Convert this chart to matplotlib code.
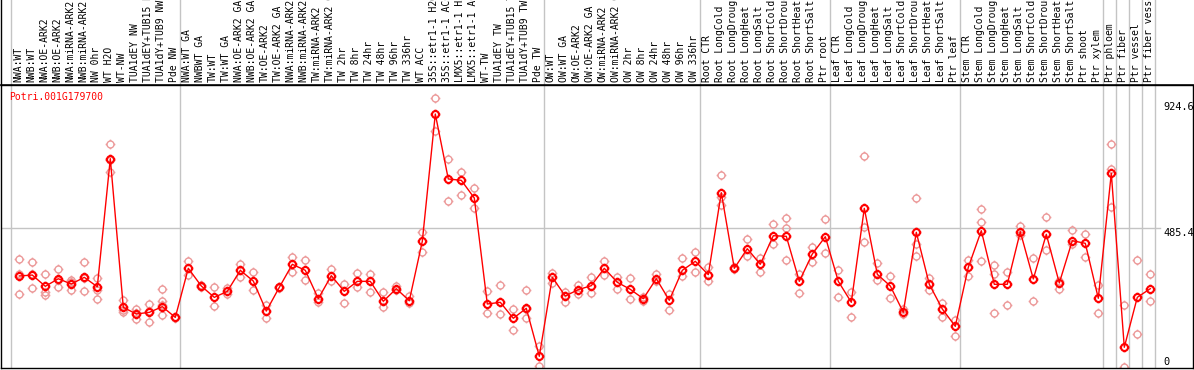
import numpy as np
import matplotlib.pyplot as plt
from matplotlib.path import Path

gene = "Potri.001G179700"

labels = [
    "NWA:WT", "NWB:WT", "NWA:OE-ARK2", "NWB:OE-ARK2", "NWA:miRNA-ARK2",
    "NWB:miRNA-ARK2", "NW 0hr", "WT H2O", "WT-NW", "TUA1dEY NW",
    "TUA1dEY+TUB15 NW", "TUA1dY+TUB9 NW", "Pde NW",
    "NWA:WT GA", "NWBWT GA", "TW:WT", "TW:WT GA", "NWA:OE-ARK2 GA",
    "NWB:OE-ARK2 GA", "TW:OE-ARK2", "TW:OE-ARK2 GA", "NWA:miRNA-ARK2 GA",
    "NWB:miRNA-ARK2 GA", "TW:miRNA-ARK2", "TW:miRNA-ARK2 GA", "TW 2hr",
    "TW 8hr", "TW 24hr", "TW 48hr", "TW 96hr", "TW 336hr", "WT ACC",
    "35S::etr1-1 H2O", "35S::etr1-1 ACC", "LMX5::etr1-1 H2O",
    "LMX5::etr1-1 ACC", "WT-TW", "TUA1dEY TW", "TUA1dEY+TUB15 TW",
    "TUA1dY+TUB9 TW", "Pde TW",
    "OW:WT", "OW:WT GA", "OW:OE-ARK2", "OW:OE-ARK2 GA", "OW:miRNA-ARK2",
    "OW:miRNA-ARK2 GA", "OW 2hr", "OW 8hr", "OW 24hr", "OW 48hr", "OW 96hr",
    "OW 336hr",
    "Root CTR", "Root LongCold", "Root LongDrought", "Root LongHeat",
    "Root LongSalt", "Root ShortCold", "Root ShortDrought", "Root ShortHeat",
    "Root ShortSalt", "Ptr root",
    "Leaf CTR", "Leaf LongCold", "Leaf LongDrought", "Leaf LongHeat",
    "Leaf LongSalt", "Leaf ShortCold", "Leaf ShortDrought", "Leaf ShortHeat",
    "Leaf ShortSalt", "Ptr leaf",
    "Stem CTR", "Stem LongCold", "Stem LongDrought", "Stem LongHeat",
    "Stem LongSalt", "Stem ShortCold", "Stem ShortDrought", "Stem ShortHeat",
    "Stem ShortSalt", "Ptr shoot", "Ptr xylem",
    "Ptr phloem", "Ptr fiber", "Ptr vessel", "Ptr fiber vessel",
]

means = [
    316.7, 320, 280.6, 307, 288.7, 312, 279, 726.7, 207, 184,
    189.6, 209.5, 172, 343.5, 281.7, 242, 263, 336.5, 299, 194,
    277, 357.5, 336.5, 237.4, 317.8, 263, 298, 298, 228.2, 272.3,
    230.3, 437.9, 882.8, 655.7, 651, 589.3, 218.8, 224.7, 168.8, 203.8,
    36, 312, 246.7, 269, 282.8, 343.5, 294.6, 270, 237.4, 307.2,
    231.7, 336.5, 368, 321.2, 607.8, 343.5, 412, 357.5, 457.5, 455.4,
    298, 393.5, 454, 298, 224.7, 553.2, 322.6, 281.7, 189.8, 469.4,
    287.6, 201.3, 140.8, 347, 475, 287.6, 287.6, 471.5, 306.2, 462.4,
    292.2, 440, 430.9, 238.7, 675.6, 67.5, 242.2, 272.3,
]

reps = [
    [375, 252.7, 322], [364.5, 273.6, 322], [322.6, 259.7, 251.3], [341, 277, 303],
    [302.7, 267.7, 296.7], [364.5, 263, 308], [308.6, 267.7, 235.2], [777, 680, 723],
    [232.8, 189.8, 199], [201, 165, 186], [218.8, 154.8, 195], [270, 230.3, 180.3, 214],
    [174, 170], [368, 320], [285, 278], [277, 210.7], [273.6, 253.7],
    [359.6, 313], [330.6, 266.7], [215.3, 169.9], [279, 275], [384, 329.6],
    [371.5, 301.6], [256, 224.7], [341, 300], [288.7, 221], [327, 277],
    [324.8, 260.7], [259.7, 209.5], [281.7, 268], [247.8, 221], [469.4, 401.6],
    [937.7, 822.3], [725.6, 577.7], [679, 598.7], [623, 554.3], [264.2, 186.3],
    [285.2, 183.8], [200.3, 128], [266.7, 168.8, 203], [72, 2], [328.3, 293.3],
    [262, 226.9], [285.2, 252.7], [313, 256], [368, 319], [314, 270],
    [308.6, 235], [244.3, 230.3], [323.6, 300], [253.7, 197.8], [378.5, 317.8],
    [399.5, 331.7], [349.2, 299.2], [668.6, 591.7, 563.7], [348, 340], [445, 387.6],
    [380.6, 331.7], [497.3, 428.5], [518.3, 483.4, 371.5], [323.6, 256], [419, 366.6],
    [514.8, 397], [337.6, 242.2], [261.8, 172.3], [736, 436.5, 489], [362, 303.7],
    [315.6, 238.7], [200.3, 183.8], [588.2, 427.4, 387.6], [308.6, 267.7], [221.2, 174.4],
    [162.9, 105.9], [372.6, 315.6], [549.8, 504.3, 368], [354, 323.6, 186.3], [329.6, 214.2],
    [491.4, 460], [378.5, 229.3], [522.9, 406.5], [300.2, 271.2], [477.4, 430],
    [463.4, 382], [285.2, 186.3], [778, 690.6, 558.9], [214.2, 0], [371.5, 112.9],
    [322.6, 228.2],
]

group_starts = [0, 13, 41, 53, 63, 73, 84, 85, 86, 87, 88]
ytick_vals = [924.6, 485.4, 0]

W, H = 1194, 370
fig = plt.figure(figsize=(W / 100, H / 100), dpi=100)


def box(x0, y0, x1, y1):
    # pixel box (top-left origin) -> figure fraction
    return [x0 / W, 1 - y1 / H, (x1 - x0) / W, (y1 - y0) / H]


ax = fig.add_axes(box(1, 85, 1193, 368))
lab = fig.add_axes(box(1, 0, 1193, 85), sharex=ax)

x = np.arange(len(labels))
ax.set_xlim((1 - 19.3) / 13, (1193 - 19.3) / 13)
ax.set_ylim((366.6 - 368) * 3.495, (366.6 - 85) * 3.495)

# circle marker with four little ticks
circ = Path.unit_circle()
tk = Path([(0, 1), (0, 1.4), (0, -1), (0, -1.4), (1, 0), (1.4, 0), (-1, 0), (-1.4, 0)],
          [Path.MOVETO, Path.LINETO] * 4)
gear = Path.make_compound_path(circ, tk)

mono = "DejaVu Sans Mono"

for a in (ax, lab):
    for k in group_starts:
        a.axvline(k - 0.64, color="#c4c4c4", lw=1, zorder=0)
    a.set_xticks([])
    a.set_yticks([])

ax.axhline(485.4, xmin=0, xmax=0.972, color="#c4c4c4", lw=1, zorder=0)

rx = np.concatenate([[i] * len(r) for i, r in enumerate(reps)])
ry = np.concatenate(reps)
ax.plot(rx, ry, ls="none", marker=gear, ms=7, mfc="none", mec="#ec9a9a", mew=1, zorder=2)
ax.plot(x, means, color="red", lw=1, marker=gear, ms=7, mfc="none", mec="red", mew=1.5, zorder=3)

for s in ax.spines.values():
    s.set_color("black")
    s.set_linewidth(1)
lab.spines["top"].set_visible(False)
lab.spines["right"].set_visible(False)
lab.spines["bottom"].set_linewidth(1.2)
lab.spines["left"].set_linewidth(1)

# labels are cut at the top edge, like in the source image
for i, t in enumerate(labels):
    lab.text(i - 0.1, 0.035, t, rotation=90, ha="center", va="bottom",
             fontsize=7.0, family=mono, transform=lab.get_xaxis_transform(), clip_on=True)

ax.text(0.0067, 0.9576, gene, color="red", fontsize=7.0, family=mono,
        ha="left", va="center", transform=ax.transAxes)

tx = (1163 - 1) / 1192
for v in ytick_vals:
    ax.text(tx, v, f"{v:g}" if v else "0", fontsize=7.4, family=mono, ha="left",
            va="top" if v else "bottom", transform=ax.get_yaxis_transform())

fig.savefig("out.png", dpi=100)
